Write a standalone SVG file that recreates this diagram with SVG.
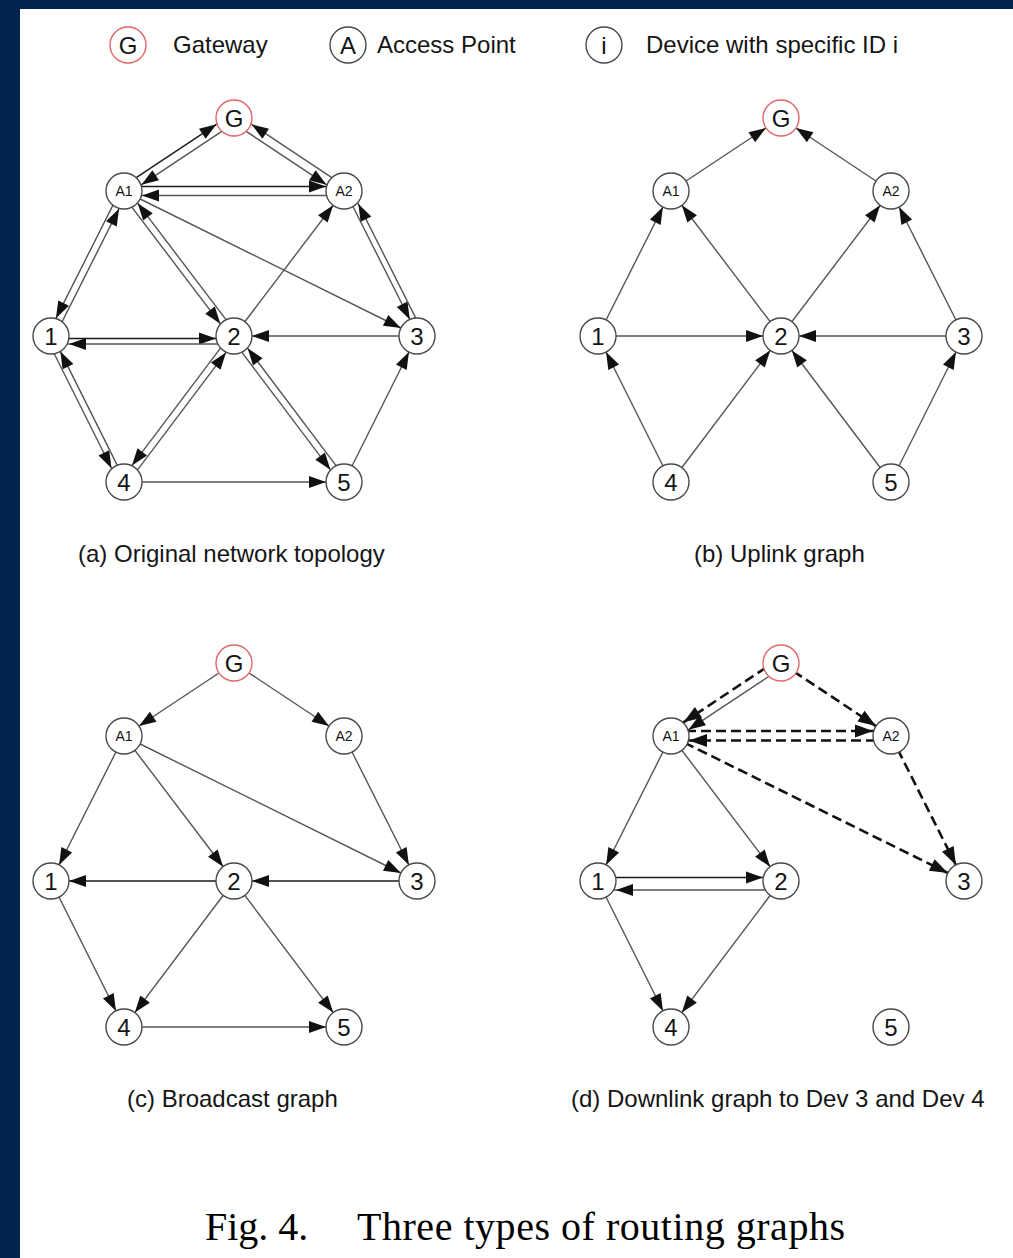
<svg xmlns="http://www.w3.org/2000/svg" width="1013" height="1258" viewBox="0 0 1013 1258">
  <defs>
    <style>
      .node circle { fill: #fff; stroke: #4a4a4a; stroke-width: 1.4; }
      .node.gw circle { stroke: #e3666b; }
      .lbl { font-family: "Liberation Sans", Arial, Helvetica, sans-serif; font-size: 24px; text-anchor: middle; fill: #151515; }
      .ap { font-size: 14px; }
      .legend-txt { font-family: "Liberation Sans", Arial, Helvetica, sans-serif; font-size: 24px; fill: #151515; }
      .cap { font-family: "Liberation Sans", Arial, Helvetica, sans-serif; font-size: 24px; fill: #151515; }
      .fig { font-family: "Liberation Serif", "Times New Roman", serif; font-size: 40px; fill: #000; }
      .e { stroke: #555; stroke-width: 1.4; fill: none; marker-end: url(#ah); }
      .k { stroke: #1a1a1a; }
      .d { stroke: #111; stroke-width: 2.6; stroke-dasharray: 10 5; fill: none; marker-end: url(#ahd); }
    </style>
    <!-- arrowheads: tip sits 18 units (one node radius) before the line end -->
    <marker id="ah" markerUnits="userSpaceOnUse" markerWidth="18" markerHeight="13" refX="35" refY="6" orient="auto" overflow="visible">
      <path d="M0,0 L17,6 L0,12 z" fill="#111"/>
    </marker>
    <marker id="ahd" markerUnits="userSpaceOnUse" markerWidth="19" markerHeight="14" refX="36" refY="6.5" orient="auto" overflow="visible">
      <path d="M0,0 L18,6.5 L0,13 z" fill="#111"/>
    </marker>
  </defs>

  <!-- page background and frame -->
  <rect width="1013" height="1258" fill="#fff"/>
  <rect width="1013" height="9" fill="#01244f"/>
  <rect width="20" height="1258" fill="#01244f"/>

  <!-- legend -->
  <g id="legend">
    <g id="legend-gateway" class="node gw" transform="translate(128,45)">
      <circle r="18"/><text class="lbl" y="8.5">G</text>
    </g>
    <text class="legend-txt" x="173" y="53">Gateway</text>
    <g id="legend-ap" class="node" transform="translate(348,45)">
      <circle r="18"/><text class="lbl" y="8.5">A</text>
    </g>
    <text class="legend-txt" x="377" y="53">Access Point</text>
    <g id="legend-dev" class="node" transform="translate(604,45)">
      <circle r="18"/><text class="lbl" y="8.5">i</text>
    </g>
    <text class="legend-txt" x="646" y="53">Device with specific ID i</text>
  </g>

  <!-- (a) original topology -->
  <g id="panel-a">
    <g id="a-links">
      <line class="e k" x1="121.5" y1="187.3" x2="231.5" y2="114.3"/>
      <line class="e" x1="236.5" y1="121.7" x2="126.5" y2="194.7"/>
      <line class="e" x1="346.5" y1="187.3" x2="236.5" y2="114.3"/>
      <line class="e" x1="231.5" y1="121.7" x2="341.5" y2="194.7"/>
      <line class="e k" x1="124" y1="186.5" x2="344" y2="186.5"/>
      <line class="e" x1="344" y1="195.5" x2="124" y2="195.5"/>
      <line class="e" x1="120.87" y1="189.43" x2="47.87" y2="334.43"/>
      <line class="e" x1="54.13" y1="337.57" x2="127.13" y2="192.57"/>
      <line class="e" x1="121.21" y1="193.12" x2="231.21" y2="338.12"/>
      <line class="e" x1="236.79" y1="333.88" x2="126.79" y2="188.88"/>
      <line class="e" x1="124" y1="191" x2="417" y2="336"/>
      <line class="e" x1="234" y1="336" x2="344" y2="191"/>
      <line class="e" x1="344.89" y1="190.55" x2="417.89" y2="335.55"/>
      <line class="e" x1="423.25" y1="332.85" x2="350.25" y2="187.85"/>
      <line class="e k" x1="51" y1="338.5" x2="234" y2="338.5"/>
      <line class="e" x1="234" y1="344" x2="51" y2="344"/>
      <line class="e" x1="417" y1="336" x2="234" y2="336"/>
      <line class="e" x1="46.53" y1="338.24" x2="119.53" y2="484.24"/>
      <line class="e" x1="125.34" y1="481.33" x2="52.34" y2="335.33"/>
      <line class="e" x1="231.2" y1="333.89" x2="121.2" y2="479.89"/>
      <line class="e" x1="126.8" y1="484.11" x2="236.8" y2="338.11"/>
      <line class="e" x1="231.2" y1="338.11" x2="341.2" y2="484.11"/>
      <line class="e" x1="346.8" y1="479.89" x2="236.8" y2="333.89"/>
      <line class="e" x1="344" y1="482" x2="417" y2="336"/>
      <line class="e" x1="124" y1="482" x2="344" y2="482"/>
    </g>
    <g id="a-G" class="node gw" transform="translate(234,118)"><circle r="18"/><text class="lbl" y="8.5">G</text></g>
    <g id="a-A1" class="node" transform="translate(124,191)"><circle r="18"/><text class="lbl ap" y="5">A1</text></g>
    <g id="a-A2" class="node" transform="translate(344,191)"><circle r="18"/><text class="lbl ap" y="5">A2</text></g>
    <g id="a-1" class="node" transform="translate(51,336)"><circle r="18"/><text class="lbl" y="8.5">1</text></g>
    <g id="a-2" class="node" transform="translate(234,336)"><circle r="18"/><text class="lbl" y="8.5">2</text></g>
    <g id="a-3" class="node" transform="translate(417,336)"><circle r="18"/><text class="lbl" y="8.5">3</text></g>
    <g id="a-4" class="node" transform="translate(124,482)"><circle r="18"/><text class="lbl" y="8.5">4</text></g>
    <g id="a-5" class="node" transform="translate(344,482)"><circle r="18"/><text class="lbl" y="8.5">5</text></g>
    <text class="cap" x="78" y="562">(a) Original network topology</text>
  </g>

  <!-- (b) uplink graph -->
  <g id="panel-b" transform="translate(547,0)">
    <g id="b-links">
      <line class="e" x1="124" y1="191" x2="234" y2="118"/>
      <line class="e" x1="344" y1="191" x2="234" y2="118"/>
      <line class="e" x1="51" y1="336" x2="124" y2="191"/>
      <line class="e" x1="234" y1="336" x2="124" y2="191"/>
      <line class="e" x1="234" y1="336" x2="344" y2="191"/>
      <line class="e" x1="417" y1="336" x2="344" y2="191"/>
      <line class="e" x1="51" y1="336" x2="234" y2="336"/>
      <line class="e" x1="417" y1="336" x2="234" y2="336"/>
      <line class="e" x1="124" y1="482" x2="51" y2="336"/>
      <line class="e" x1="124" y1="482" x2="234" y2="336"/>
      <line class="e" x1="344" y1="482" x2="234" y2="336"/>
      <line class="e" x1="344" y1="482" x2="417" y2="336"/>
    </g>
    <g id="b-G" class="node gw" transform="translate(234,118)"><circle r="18"/><text class="lbl" y="8.5">G</text></g>
    <g id="b-A1" class="node" transform="translate(124,191)"><circle r="18"/><text class="lbl ap" y="5">A1</text></g>
    <g id="b-A2" class="node" transform="translate(344,191)"><circle r="18"/><text class="lbl ap" y="5">A2</text></g>
    <g id="b-1" class="node" transform="translate(51,336)"><circle r="18"/><text class="lbl" y="8.5">1</text></g>
    <g id="b-2" class="node" transform="translate(234,336)"><circle r="18"/><text class="lbl" y="8.5">2</text></g>
    <g id="b-3" class="node" transform="translate(417,336)"><circle r="18"/><text class="lbl" y="8.5">3</text></g>
    <g id="b-4" class="node" transform="translate(124,482)"><circle r="18"/><text class="lbl" y="8.5">4</text></g>
    <g id="b-5" class="node" transform="translate(344,482)"><circle r="18"/><text class="lbl" y="8.5">5</text></g>
    <text class="cap" x="147" y="562">(b) Uplink graph</text>
  </g>

  <!-- (c) broadcast graph -->
  <g id="panel-c" transform="translate(0,545)">
    <g id="c-links">
      <line class="e" x1="234" y1="118" x2="124" y2="191"/>
      <line class="e" x1="234" y1="118" x2="344" y2="191"/>
      <line class="e" x1="124" y1="191" x2="51" y2="336"/>
      <line class="e" x1="124" y1="191" x2="234" y2="336"/>
      <line class="e" x1="124" y1="191" x2="417" y2="336"/>
      <line class="e" x1="344" y1="191" x2="417" y2="336"/>
      <line class="e k" x1="234" y1="336" x2="51" y2="336"/>
      <line class="e k" x1="417" y1="336" x2="234" y2="336"/>
      <line class="e" x1="51" y1="336" x2="124" y2="482"/>
      <line class="e" x1="234" y1="336" x2="124" y2="482"/>
      <line class="e" x1="234" y1="336" x2="344" y2="482"/>
      <line class="e" x1="124" y1="482" x2="344" y2="482"/>
    </g>
    <g id="c-G" class="node gw" transform="translate(234,118)"><circle r="18"/><text class="lbl" y="8.5">G</text></g>
    <g id="c-A1" class="node" transform="translate(124,191)"><circle r="18"/><text class="lbl ap" y="5">A1</text></g>
    <g id="c-A2" class="node" transform="translate(344,191)"><circle r="18"/><text class="lbl ap" y="5">A2</text></g>
    <g id="c-1" class="node" transform="translate(51,336)"><circle r="18"/><text class="lbl" y="8.5">1</text></g>
    <g id="c-2" class="node" transform="translate(234,336)"><circle r="18"/><text class="lbl" y="8.5">2</text></g>
    <g id="c-3" class="node" transform="translate(417,336)"><circle r="18"/><text class="lbl" y="8.5">3</text></g>
    <g id="c-4" class="node" transform="translate(124,482)"><circle r="18"/><text class="lbl" y="8.5">4</text></g>
    <g id="c-5" class="node" transform="translate(344,482)"><circle r="18"/><text class="lbl" y="8.5">5</text></g>
    <text class="cap" x="127" y="562">(c) Broadcast graph</text>
  </g>

  <!-- (d) downlink graph -->
  <g id="panel-d" transform="translate(547,545)">
    <g id="d-links">
      <line class="d" x1="231.5" y1="114.3" x2="121.5" y2="187.3"/>
      <line class="e" x1="236.5" y1="121.7" x2="126.5" y2="194.7"/>
      <line class="d" x1="234" y1="118" x2="344" y2="191"/>
      <line class="d" x1="124" y1="186" x2="344" y2="186"/>
      <line class="d" x1="344" y1="195.5" x2="124" y2="195.5"/>
      <line class="d" x1="124" y1="191" x2="417" y2="336"/>
      <line class="d" x1="344" y1="191" x2="417" y2="336"/>
      <line class="e" x1="124" y1="191" x2="51" y2="336"/>
      <line class="e" x1="124" y1="191" x2="234" y2="336"/>
      <line class="e k" x1="51" y1="332.5" x2="234" y2="332.5"/>
      <line class="e" x1="234" y1="345" x2="51" y2="345"/>
      <line class="e" x1="51" y1="336" x2="124" y2="482"/>
      <line class="e" x1="234" y1="336" x2="124" y2="482"/>
    </g>
    <g id="d-G" class="node gw" transform="translate(234,118)"><circle r="18"/><text class="lbl" y="8.5">G</text></g>
    <g id="d-A1" class="node" transform="translate(124,191)"><circle r="18"/><text class="lbl ap" y="5">A1</text></g>
    <g id="d-A2" class="node" transform="translate(344,191)"><circle r="18"/><text class="lbl ap" y="5">A2</text></g>
    <g id="d-1" class="node" transform="translate(51,336)"><circle r="18"/><text class="lbl" y="8.5">1</text></g>
    <g id="d-2" class="node" transform="translate(234,336)"><circle r="18"/><text class="lbl" y="8.5">2</text></g>
    <g id="d-3" class="node" transform="translate(417,336)"><circle r="18"/><text class="lbl" y="8.5">3</text></g>
    <g id="d-4" class="node" transform="translate(124,482)"><circle r="18"/><text class="lbl" y="8.5">4</text></g>
    <g id="d-5" class="node" transform="translate(344,482)"><circle r="18"/><text class="lbl" y="8.5">5</text></g>
    <text class="cap" x="24" y="562">(d) Downlink graph to Dev 3 and Dev 4</text>
  </g>

  <!-- figure caption -->
  <text class="fig" x="205" y="1240">Fig. 4.</text>
  <text class="fig" x="357" y="1240" textLength="488" lengthAdjust="spacing">Three types of routing graphs</text>
</svg>
